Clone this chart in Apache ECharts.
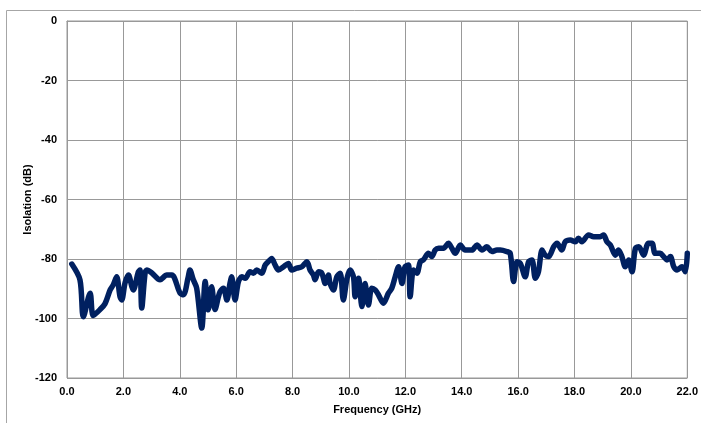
<!DOCTYPE html>
<html>
<head>
<meta charset="utf-8">
<script src="https://cdn.jsdelivr.net/npm/echarts@6/dist/echarts.min.js"></script>
<style>
html,body{margin:0;padding:0;background:#fff;}
#chart{width:701px;height:423px;}
</style>
</head>
<body>
<div id="chart"></div>
<script>
// Frequency (GHz)
const freq = [0.17,0.46,0.58,0.82,0.93,1.17,1.35,1.53,1.64,1.76,1.88,1.94,2.06,2.18,2.30,2.35,2.53,2.59,2.65,2.77,2.83,3.01,3.30,3.54,3.72,4.01,4.13,4.30,4.36,4.48,4.60,4.78,4.90,5.01,5.13,5.25,5.37,5.43,5.55,5.67,5.78,5.84,5.96,6.08,6.20,6.32,6.49,6.61,6.73,6.91,7.03,7.20,7.26,7.38,7.50,7.68,7.85,7.97,8.15,8.33,8.51,8.62,8.74,8.80,8.92,9.04,9.16,9.27,9.33,9.45,9.57,9.69,9.80,9.93,10.04,10.16,10.22,10.34,10.46,10.57,10.69,10.81,10.93,11.05,11.22,11.40,11.52,11.64,11.76,11.88,11.99,12.11,12.17,12.29,12.41,12.53,12.64,12.82,12.94,13.06,13.18,13.35,13.53,13.65,13.77,13.95,14.12,14.36,14.54,14.72,14.89,15.07,15.25,15.37,15.60,15.72,15.84,15.96,16.08,16.25,16.37,16.49,16.61,16.72,16.85,16.96,17.08,17.26,17.38,17.55,17.67,17.85,18.03,18.14,18.26,18.50,18.68,18.91,19.03,19.15,19.27,19.45,19.56,19.68,19.80,19.92,20.04,20.16,20.28,20.45,20.62,20.75,20.86,21.04,21.16,21.28,21.40,21.52,21.64,21.81,21.93,22.0];
// Isolation (dB)
const isolation = [-81.7,-87,-99.4,-91.5,-99,-97,-95,-90.4,-88.7,-86,-92.7,-93.8,-88,-85.4,-89.3,-90.4,-84.3,-83.7,-96.5,-84.7,-83.7,-84.7,-87,-85.4,-85.4,-91.5,-92,-86,-83.7,-87,-89.8,-103.2,-87.6,-97.1,-89.3,-97,-92.7,-91,-89.8,-93.8,-88.2,-86,-93.8,-87.6,-86,-86.5,-84.3,-84.8,-83.7,-84.8,-82,-80.3,-79.8,-82,-83.7,-82.6,-81.5,-83.7,-83.1,-82.6,-80.9,-83.7,-85.4,-87,-84.3,-84.8,-88.2,-85.4,-88.2,-90.4,-86,-84.8,-93.8,-86.5,-83.7,-86,-92.7,-86.5,-96,-88.2,-95.5,-89.8,-90.4,-92.1,-94.9,-91.5,-89.8,-86,-82.6,-88.2,-82.6,-82,-92.7,-83.7,-84.8,-80.9,-80.3,-78.1,-79.2,-77,-76.4,-76.4,-74.7,-76.4,-78.1,-75.3,-77,-77,-75.3,-77,-75.9,-77.5,-77,-77,-77.5,-78.1,-87.6,-80.9,-81.5,-86,-80.9,-80.3,-86.5,-84.3,-77,-78.7,-79.2,-75.9,-74.7,-77,-74.2,-73.6,-74.2,-73,-74.2,-71.9,-72.5,-72.5,-71.9,-74.2,-75.3,-78.7,-77,-79.2,-82.6,-80.3,-84.3,-76.4,-75.9,-78.7,-74.7,-74.7,-78.1,-78.1,-79.2,-80.3,-79.2,-82.6,-83.7,-82.6,-84.3,-78.1];

const chart = echarts.init(document.getElementById('chart'), null, {renderer:'canvas'});
const font = 'Liberation Sans, Arial, sans-serif';
chart.setOption({
  animation:false,
  backgroundColor:'#fff',
  graphic:[{type:'rect',shape:{x:6.5,y:10.5,width:720,height:440},style:{fill:'none',stroke:'#a6a6a6',lineWidth:1},silent:true,z:-1}],
  grid:{left:67,right:13,top:21,bottom:45,show:true,borderColor:'#999',borderWidth:1},
  xAxis:{type:'value',min:0,max:22,interval:2,
    name:'Frequency (GHz)',nameLocation:'middle',nameGap:26,nameMoveOverlap:false,
    nameTextStyle:{fontFamily:font,fontWeight:'bold',fontSize:11,color:'#000'},
    axisLine:{show:true,lineStyle:{color:'#999'}},axisTick:{show:false},
    axisLabel:{fontFamily:font,fontWeight:'bold',fontSize:11,color:'#000',margin:8,formatter:v=>v.toFixed(1)},
    splitLine:{show:true,lineStyle:{color:'#999',width:1}}},
  yAxis:{type:'value',min:-120,max:0,interval:20,
    name:'Isolation (dB)',nameLocation:'middle',nameGap:34,nameRotate:90,nameMoveOverlap:false,
    nameTextStyle:{fontFamily:font,fontWeight:'bold',fontSize:11,color:'#000'},
    axisLine:{show:true,lineStyle:{color:'#999'}},axisTick:{show:false},
    axisLabel:{fontFamily:font,fontWeight:'bold',fontSize:11,color:'#000',margin:10},
    splitLine:{show:true,lineStyle:{color:'#999',width:1}}},
  series:[{type:'line',data:freq.map((f,i)=>[f,isolation[i]]),
    showSymbol:false,smooth:0.3,clip:true,
    lineStyle:{color:'#002060',width:5.5,join:'round',cap:'round'}}]
});
</script>
</body>
</html>
